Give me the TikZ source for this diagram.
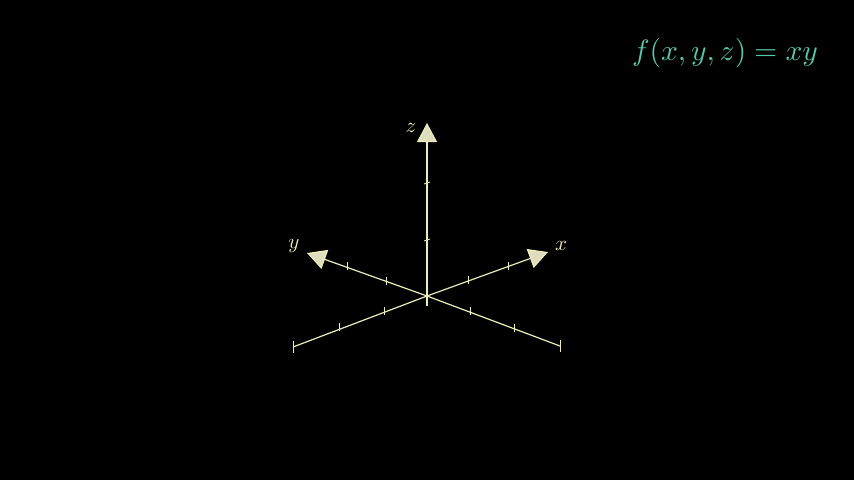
\documentclass[tikz,border=0pt]{standalone}
\usepackage{amsmath}
\usepackage{tikz}
\usetikzlibrary{arrows.meta, positioning, backgrounds}
\definecolor{myaxis}{RGB}{236,236,188}
\definecolor{mytip}{RGB}{222,222,190}
\definecolor{myteal}{RGB}{88,200,172}
\tikzset{
  axis/.style={line width=1.2pt, color=myaxis},
  tick/.style={line width=0.9pt, color=myaxis},
  axislabel/.style={text=myaxis, scale=2.1, inner sep=0pt},
  formula/.style={text=myteal, scale=2.95, inner sep=0pt}
}

\begin{document}
\begin{tikzpicture}[x=1pt, y=-1pt,
  arrowaxis/.style={axis, -{Triangle[length=19pt, width=20pt, fill=mytip]}}]

  \fill[black] (0,0) rectangle (854,480);

  \coordinate (o) at (427,296);
  \coordinate (xneg) at (293,347);
  \coordinate (xpos) at (548,252);
  \coordinate (yneg) at (560,346);
  \coordinate (ypos) at (307,253);
  \coordinate (zneg) at (427,306);
  \coordinate (zpos) at (427,123);

  % axes
  \draw[axis] (xneg) -- (o);
  \draw[arrowaxis] (o) -- (xpos);
  \draw[axis] (yneg) -- (o);
  \draw[arrowaxis] (o) -- (ypos);
  \draw[axis] (zneg) -- (o);
  \draw[arrowaxis] (o) -- (zpos);

  % ticks
  \foreach \p in {(339,327), (384,311), (468,280), (508,266),
                  (386,281), (347,266), (470,311), (514,328)}
    \draw[tick] \p ++(0,-4) -- ++(0,8);
  \draw[tick] (xneg) ++(0,-6) -- ++(0,12);
  \draw[tick] (yneg) ++(0,-6) -- ++(0,12);
  \foreach \h in {183, 240}
    \draw[tick] (424,\h+1) -- (430,\h-1);

  \node[axislabel] (xl) at (561,246) {$x$};
  \node[axislabel] (yl) at (294,246) {$y$};
  \node[axislabel] (zl) at (411,128) {$z$};

  \node[formula] (f) at (725,53) {$f(x,y,z) = xy$};

\end{tikzpicture}
\end{document}
